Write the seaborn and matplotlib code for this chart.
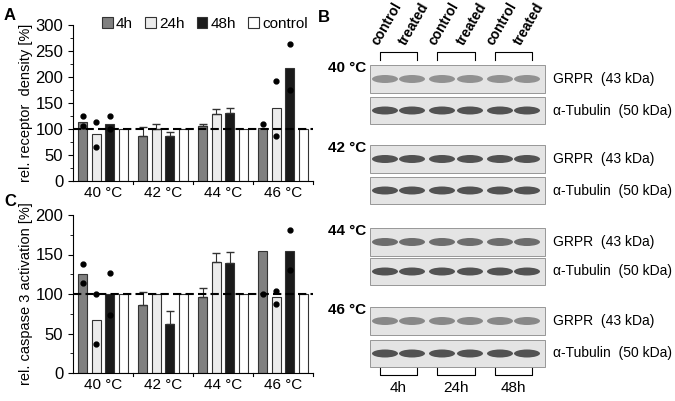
import numpy as np
import pandas as pd
import matplotlib
matplotlib.use("Agg")
import matplotlib.pyplot as plt
import seaborn as sns
from matplotlib.patches import Rectangle, Ellipse

temps = ['40 °C', '42 °C', '44 °C', '46 °C']
times = ['4h', '24h', '48h', 'control']
colors = ['#808080', '#ececec', '#1a1a1a', '#ffffff']

# panel A: receptor density
dens_4h = [113, 86, 105, 101]
dens_24h = [90, 100, 129, 140]
dens_48h = [110, 86, 131, 217]
dens_ctrl = [100, 100, 100, 100]
dens_err_4h = [0, 18, 4, 0]
dens_err_24h = [0, 10, 10, 0]
dens_err_48h = [0, 8, 10, 0]
dens_dots_4h = [[125, 105], [], [], [109]]
dens_dots_24h = [[114, 66], [], [], [193, 87]]
dens_dots_48h = [[125, 100], [], [], [263, 175]]

# panel C: caspase 3 activation
casp_4h = [125, 86, 96, 154]
casp_24h = [67, 100, 140, 96]
casp_48h = [100, 62, 139, 155]
casp_ctrl = [100, 100, 100, 100]
casp_err_4h = [0, 17, 12, 0]
casp_err_24h = [0, 0, 12, 0]
casp_err_48h = [0, 16, 14, 0]
casp_dots_4h = [[138, 114], [], [], [207, 100]]
casp_dots_24h = [[100, 37], [], [], [104, 87]]
casp_dots_48h = [[127, 73], [], [], [181, 131]]

plt.rcParams['font.family'] = 'Liberation Sans'
fig = plt.figure(figsize=(6.75, 4.01), dpi=100)
W, H = 675, 401


def px_axes(x0, y0, x1, y1):
    return fig.add_axes([x0 / W, 1 - y1 / H, (x1 - x0) / W, (y1 - y0) / H])


def panel(ax, vals, errs, dots, ymax, ylabel, legend):
    df = pd.DataFrame({
        'temp': [t for t in temps for _ in times],
        'time': [s for _ in temps for s in times],
        'val': [vals[j][i] for i in range(4) for j in range(4)],
    })
    sns.barplot(data=df, x='temp', y='val', hue='time', hue_order=times, palette=colors,
                edgecolor='#333333', linewidth=0.8, errorbar=None, width=0.9,
                legend=legend, ax=ax)
    # shrink bars around their centres to leave small gaps
    for p in ax.patches[:16]:
        w = p.get_width()
        p.set_x(p.get_x() + w * 0.15)
        p.set_width(w * 0.7)
    # bars come out grouped by hue
    for j in range(3):
        for i in range(4):
            p = ax.patches[j * 4 + i]
            cx = p.get_x() + p.get_width() / 2
            top = p.get_height()
            if errs[j][i] > 0:
                ax.errorbar(cx, top, yerr=[[0], [errs[j][i]]], color='#333333',
                            capsize=3, lw=0.8)
            for d in dots[j][i]:
                ax.plot(cx, d, 'o', color='black', ms=3.5)
    ax.axhline(100, color='black', ls='--', lw=1.5, dashes=(4, 2))
    ax.set_ylim(0, ymax)
    ax.set_xlim(-0.5, 3.5)
    ax.set_yticks(np.arange(0, ymax + 1, 50))
    ax.set_yticks(np.arange(0, ymax + 1, 25), minor=True)
    ax.set_xlabel('')
    ax.set_ylabel(ylabel, fontsize=10.5, labelpad=2)
    ax.set_xticks(range(4))
    ax.set_xticklabels(temps, fontsize=11)
    ax.tick_params(axis='y', labelsize=12)
    ax.tick_params(axis='x', length=0)
    for x in [0.5, 1.5, 2.5, 3.5]:
        ax.plot([x, x], [0, -ymax * 0.02], color='black', lw=0.8, clip_on=False)
    sns.despine(ax=ax)


axA = px_axes(73, 25, 313, 181)
panel(axA, [dens_4h, dens_24h, dens_48h, dens_ctrl],
      [dens_err_4h, dens_err_24h, dens_err_48h],
      [dens_dots_4h, dens_dots_24h, dens_dots_48h], 300,
      'rel. receptor  density [%]', True)
axA.legend(loc='upper center', bbox_to_anchor=(0.55, 1.14), ncol=4, frameon=False,
           fontsize=11, handlelength=0.7, handletextpad=0.2, columnspacing=0.8)

axC = px_axes(73, 215, 313, 373)
panel(axC, [casp_4h, casp_24h, casp_48h, casp_ctrl],
      [casp_err_4h, casp_err_24h, casp_err_48h],
      [casp_dots_4h, casp_dots_24h, casp_dots_48h], 200,
      'rel. caspase 3 activation [%]', False)

fig.text(4 / W, 1 - 20 / H, 'A', fontsize=12, fontweight='bold')
fig.text(4 / W, 1 - 206 / H, 'C', fontsize=12, fontweight='bold')
fig.text(318 / W, 1 - 22 / H, 'B', fontsize=12, fontweight='bold')

# panel B: blot strips drawn as shaded boxes
axB = fig.add_axes([0, 0, 1, 1])
axB.set_xlim(0, W)
axB.set_ylim(H, 0)
axB.axis('off')
lane_x = [385, 412, 442, 470, 500, 527]
blocks = [('40 °C', 65, 97, 0.45), ('42 °C', 145, 177, 0.8),
          ('44 °C', 228, 258, 0.65), ('46 °C', 307, 340, 0.5)]
for lab, y1, y2, dark in blocks:
    axB.text(328, y1 + 3, lab, fontsize=11, fontweight='bold', va='center')
    for y, h, lbl, d in [(y1, 28, 'GRPR  (43 kDa)', dark), (y2, 27, 'α-Tubulin  (50 kDa)', 0.8)]:
        axB.add_patch(Rectangle((370, y), 175, h, facecolor='#e4e4e4', edgecolor='#888888', lw=0.6))
        for lx in lane_x:
            axB.add_patch(Ellipse((lx, y + h / 2), 26, 8, facecolor='black', alpha=d * 0.8, lw=0))
        axB.text(553, y + h / 2, lbl, fontsize=10, va='center')
for k, lx in enumerate(lane_x):
    axB.text(lx - 4, 48, ['control', 'treated'][k % 2], fontsize=10, fontweight='bold',
             rotation=60, ha='left', va='bottom', rotation_mode='anchor')
for k in range(3):
    x0, x1 = lane_x[2 * k] - 5, lane_x[2 * k + 1] + 5
    axB.plot([x0, x0, x1, x1], [60, 52, 52, 60], color='black', lw=0.8)
    axB.plot([x0, x0, x1, x1], [368, 375, 375, 368], color='black', lw=0.8)
    axB.text((x0 + x1) / 2, 388, ['4h', '24h', '48h'][k], fontsize=11, ha='center', va='center')

fig.savefig('out.png', dpi=100)
